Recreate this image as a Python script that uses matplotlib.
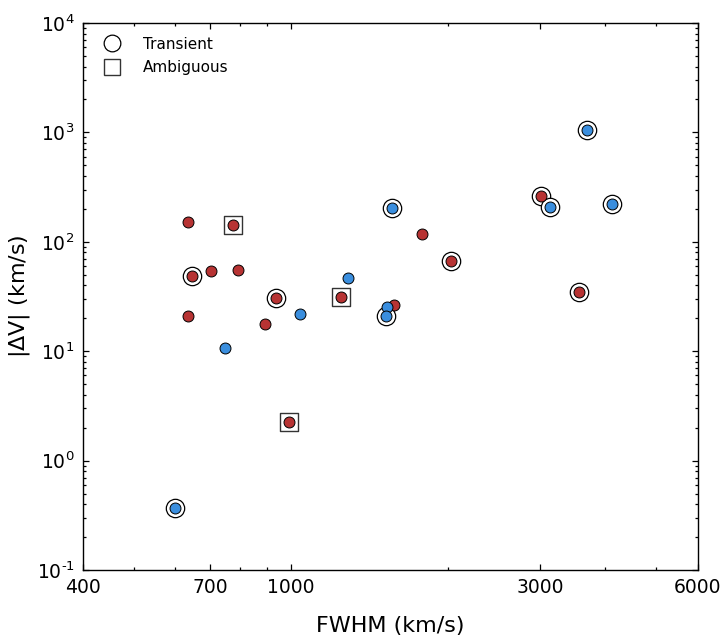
import numpy as np
import matplotlib
matplotlib.use("Agg")
import matplotlib.pyplot as plt
from matplotlib.ticker import FixedLocator, NullFormatter, LogLocator, FuncFormatter
from matplotlib.lines import Line2D

plt.rcParams["axes.unicode_minus"] = False

# Red sample: FWHM (km/s), |dV| (km/s), flag (T = transient, A = ambiguous)
red_fwhm = [636, 646, 703, 792, 635, 775, 935, 893, 1245, 991, 1575, 1779, 2025, 3011, 3559]
red_dv = [150.7, 48.7, 54.4, 55.2, 21.0, 143.3, 30.6, 17.6, 31.1, 2.25, 26.4, 117.9, 67.2, 260.6, 35.0]
red_flag = ["", "T", "", "", "", "A", "T", "", "A", "A", "", "", "T", "T", "T"]

# Blue sample
blue_fwhm = [600, 748, 1042, 1288, 1525, 1521, 1561, 3128, 3687, 4117]
blue_dv = [0.369, 10.7, 21.7, 46.4, 25.5, 21.1, 202.5, 209.4, 1059, 220]
blue_flag = ["T", "", "", "", "", "T", "T", "T", "T", "T"]

x_major = [400, 700, 1000, 3000, 6000]
x_minor = [500, 600, 800, 900, 2000, 4000, 5000]

RED = "#B73333"
BLUE = "#3A8EDE"

fig = plt.figure(figsize=(7.24, 6.4), dpi=100)
ax = fig.add_axes([0.1146, 0.1094, 0.8488, 0.8547])
ax.set_xscale("log")
ax.set_yscale("log")
ax.set_xlim(400, 6000)
ax.set_ylim(0.1, 1e4)


def draw(fw, dv, flag, color):
    fw = np.asarray(fw, float)
    dv = np.asarray(dv, float)
    flag = np.asarray(flag)
    t = flag == "T"
    a = flag == "A"
    ax.scatter(fw[t], dv[t], s=175, marker="o", facecolor="white",
               edgecolor="black", linewidth=0.9, zorder=2)
    ax.scatter(fw[a], dv[a], s=150, marker="s", facecolor="white",
               edgecolor="#333333", linewidth=1.0, zorder=2)
    ax.scatter(fw, dv, s=62, marker="o", facecolor=color,
               edgecolor="black", linewidth=0.7, zorder=3)


draw(red_fwhm, red_dv, red_flag, RED)
draw(blue_fwhm, blue_dv, blue_flag, BLUE)


def pow10_label(v, pos):
    e = int(round(np.log10(v)))
    return r"$10^{\text{%d}}$" % e


ax.xaxis.set_major_locator(FixedLocator(x_major))
ax.xaxis.set_minor_locator(FixedLocator(x_minor))
ax.set_xticklabels([str(v) for v in x_major])
ax.xaxis.set_minor_formatter(NullFormatter())
ax.yaxis.set_major_locator(LogLocator(base=10, numticks=10))
ax.yaxis.set_minor_locator(LogLocator(base=10, subs=np.arange(2, 10), numticks=10))
ax.yaxis.set_major_formatter(FuncFormatter(pow10_label))
ax.yaxis.set_minor_formatter(NullFormatter())

ax.tick_params(which="both", direction="in", top=True, right=True, width=0.9)
ax.tick_params(which="major", length=4.5, labelsize=13.5, pad=6)
ax.tick_params(which="minor", length=2.2)
for sp in ax.spines.values():
    sp.set_linewidth(1.0)

ax.set_xlabel("FWHM (km/s)", fontsize=16)
ax.xaxis.set_label_coords(0.5, -0.084)
ax.set_ylabel(r"$|\Delta$V$|$ (km/s)", fontsize=16)
ax.yaxis.set_label_coords(-0.083, 0.5)

handles = [
    Line2D([], [], linestyle="none", marker="o", markersize=12,
           markerfacecolor="white", markeredgecolor="black", markeredgewidth=0.9),
    Line2D([], [], linestyle="none", marker="s", markersize=11,
           markerfacecolor="white", markeredgecolor="#333333", markeredgewidth=1.0),
]
ax.legend(handles, ["Transient", "Ambiguous"], loc="upper left", frameon=False,
          fontsize=11, handletextpad=1.0, labelspacing=0.55,
          borderaxespad=0.3, borderpad=0.6)

fig.savefig("out.png", dpi=100)
